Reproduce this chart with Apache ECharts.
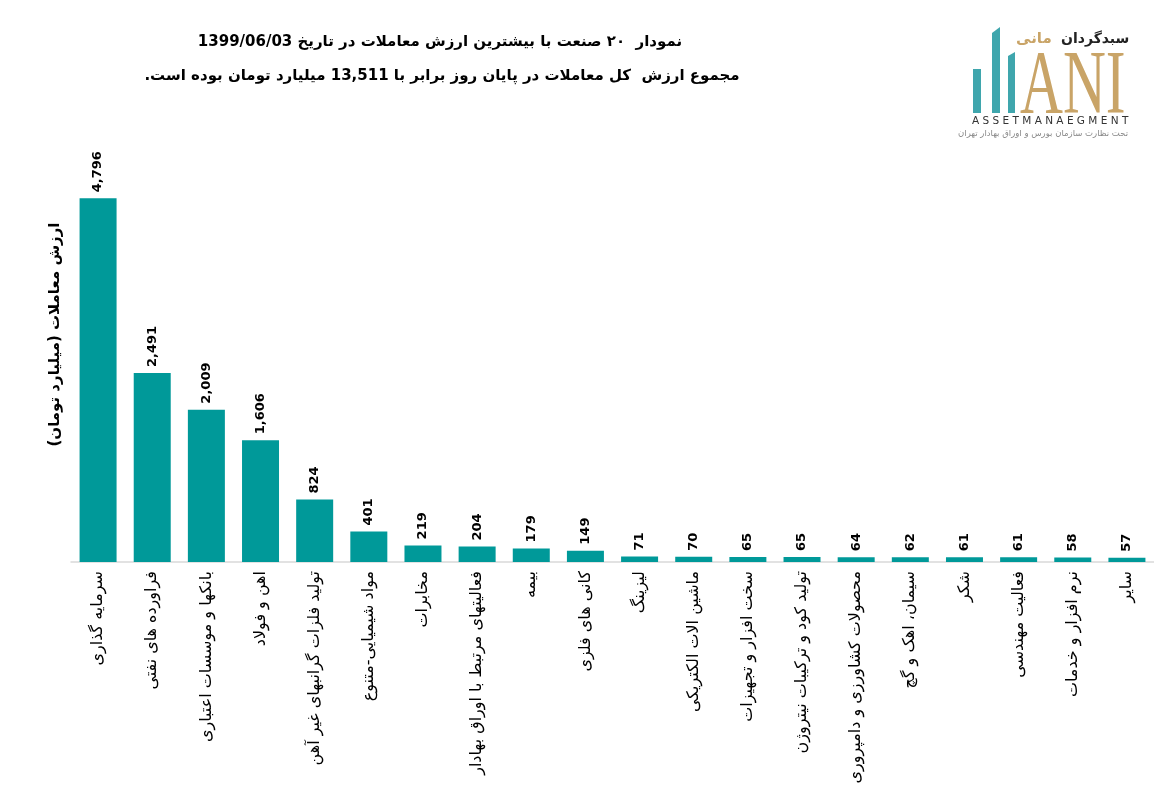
<!DOCTYPE html>
<html lang="fa">
<head>
    <meta charset="UTF-8">
    <title>ارزش معاملات صنایع</title>
    <script src="https://cdn.jsdelivr.net/npm/echarts@6/dist/echarts.min.js"></script>
    <style type="text/css">
        html, body { margin: 0; padding: 0; background: #fff; }
        #main { width: 1154px; height: 791px; }
    </style>
</head>
<body>
<!-- dir=rtl تا متن فارسی روی canvas درست چیده شود -->
<div id="main" dir="rtl"></div>
<script>
    // دسته‌ها (صنایع)
    var industries = [
        'سرمایه گذاری', 'فراورده های نفتی', 'بانکها و موسسات اعتباری', 'اهن و فولاد',
        'تولید فلزات گرانبهای غیر آهن', 'مواد شیمیایی-متنوع', 'مخابرات',
        'فعالیتهای مرتبط با اوراق بهادار', 'بیمه', 'کانی های فلزی', 'لیزینگ',
        'ماشین الات الکتریکی', 'سخت افزار و تجهیزات', 'تولید کود و ترکیبات نیتروژن',
        'محصولات کشاورزی و دامپروری', 'سیمان، اهک و گچ', 'شکر', 'فعالیت مهندسی',
        'نرم افزار و خدمات', 'سایر'
    ];
    // ارزش معاملات (میلیارد تومان)
    var tradeValues = [4796, 2491, 2009, 1606, 824, 401, 219, 204, 179, 149,
        71, 70, 65, 65, 64, 62, 61, 61, 58, 57];

    var titleLine1 = 'نمودار  ۲۰ صنعت با بیشترین ارزش معاملات در تاریخ 1399/06/03';
    var titleLine2 = 'مجموع ارزش  کل معاملات در پایان روز برابر با 13,511 میلیارد تومان بوده است.';
    var yName = 'ارزش معاملات (میلیارد تومان)';

    var FONT = "'DejaVu Sans', 'Noto Sans', sans-serif";
    var TEAL = '#009999';
    var GOLD = '#c9a467';
    var LOGO_TEAL = '#3fa6ad';

    var myChart = echarts.init(document.getElementById('main'));

    var option = {
        backgroundColor: '#ffffff',
        animation: false,
        textStyle: { fontFamily: FONT },
        grid: { left: 71, right: 0, top: 107, bottom: 229 },
        xAxis: {
            type: 'category',
            data: industries,
            axisLine: { lineStyle: { color: '#d9d9d9', width: 1.5 } },
            axisTick: { show: false },
            axisLabel: {
                interval: 0,
                rotate: 90,
                color: '#000',
                fontSize: 16,
                fontFamily: FONT,
                margin: 9
            }
        },
        yAxis: {
            type: 'value',
            min: 0,
            max: 6000,
            name: yName,
            nameLocation: 'middle',
            nameRotate: 90,
            nameGap: 8,
            nameTextStyle: { color: '#000', fontSize: 15, fontWeight: 'bold', fontFamily: FONT },
            axisLine: { show: false },
            axisTick: { show: false },
            axisLabel: { show: false },
            splitLine: { show: false }
        },
        series: [{
            type: 'bar',
            data: tradeValues,
            barWidth: 37,
            itemStyle: { color: TEAL },
            label: {
                show: true,
                position: 'top',
                rotate: 90,
                align: 'left',
                verticalAlign: 'middle',
                distance: 6,
                color: '#000',
                fontSize: 13,
                fontWeight: 'bold',
                fontFamily: FONT,
                formatter: function (p) {
                    return p.value.toLocaleString('en-US');
                }
            }
        }],
        graphic: [
            // عنوان
            {
                type: 'text', x: 440, y: 42,
                style: { text: titleLine1, fill: '#000', font: 'bold 15px ' + FONT, textAlign: 'center', textVerticalAlign: 'middle' }
            },
            {
                type: 'text', x: 442, y: 76,
                style: { text: titleLine2, fill: '#000', font: 'bold 15px ' + FONT, textAlign: 'center', textVerticalAlign: 'middle' }
            },
            // لوگو
            { type: 'rect', shape: { x: 973, y: 69, width: 8, height: 44 }, style: { fill: LOGO_TEAL } },
            { type: 'polygon', shape: { points: [[992, 33], [1000, 27], [1000, 113], [992, 113]] }, style: { fill: LOGO_TEAL } },
            { type: 'polygon', shape: { points: [[1008, 56], [1015, 52], [1015, 113], [1008, 113]] }, style: { fill: LOGO_TEAL } },
            {
                type: 'text', x: 1020, y: 134, scaleX: 0.66,
                style: { text: 'ANI', fill: GOLD, font: '90px "Liberation Serif", serif', textAlign: 'left', textVerticalAlign: 'bottom' }
            },
            {
                type: 'text', x: 1061, y: 39,
                style: { text: 'سبدگردان', fill: '#222', font: 'bold 14px ' + FONT, textAlign: 'left', textVerticalAlign: 'middle' }
            },
            {
                type: 'text', x: 1016, y: 39,
                style: { text: 'مانی', fill: GOLD, font: 'bold 15px ' + FONT, textAlign: 'left', textVerticalAlign: 'middle' }
            },
            {
                type: 'text', x: 972, y: 121,
                style: { text: 'A S S E T M A N A E G M E N T', fill: '#333', font: '10.5px ' + FONT, textAlign: 'left', textVerticalAlign: 'middle' }
            },
            {
                type: 'text', x: 1128, y: 134,
                style: { text: 'تحت نظارت سازمان بورس و اوراق بهادار تهران', fill: '#888', font: '8.5px ' + FONT, textAlign: 'right', textVerticalAlign: 'middle' }
            }
        ]
    };

    myChart.setOption(option);
</script>
</body>
</html>
